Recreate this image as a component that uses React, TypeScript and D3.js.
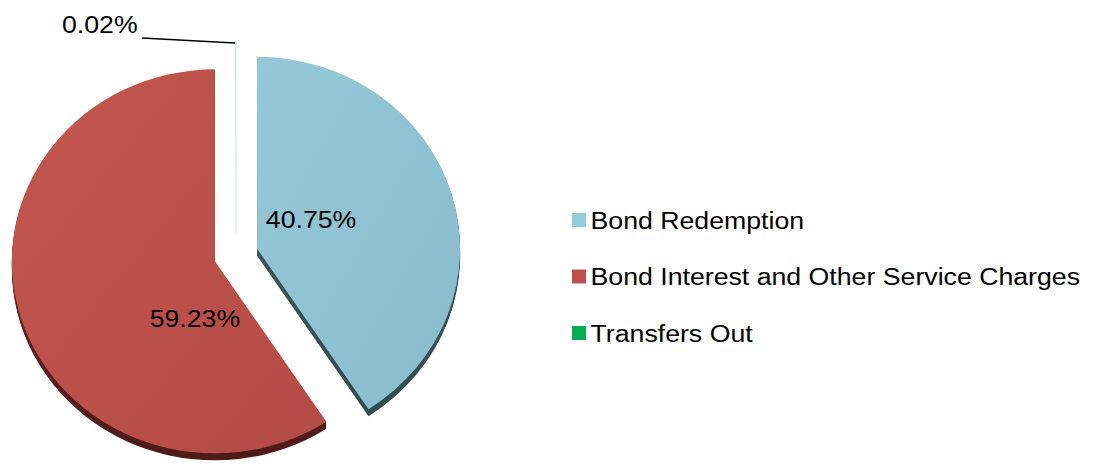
import React from "react";
import * as d3 from "d3";

const categories = ["Bond Redemption", "Bond Interest and Other Service Charges", "Transfers Out"];
const values = [40.75, 59.23, 0.02];
const valueLabels = ["40.75%", "59.23%", "0.02%"];
const legendColors = ["#93cddd", "#c0504d", "#00b050"];

const W = 1095, H = 466;
const CX = 236, CY = 255;
const RX = 203, RY = 192;
const EXPLODE = 22;
const DEPTH = 7;

const faceTop = ["#95c9d8", "#c3574f", "#c8ead8"];
const faceBottom = ["#88bbcb", "#b44b46", "#c8ead8"];
const sideTop = ["#44636a", "#7e2f2b", "#9fc9b3"];
const sideBottom = ["#324b50", "#4e1a18", "#9fc9b3"];

// label offsets relative to each slice's (exploded) vertex, in px
const labelOffsets: [number, number][] = [[54, -30], [-20, 56], [0, 0]];

const FONT = "'Liberation Sans', Arial, Helvetica, sans-serif";
const FS = 24.5;
const SX = 1.09;

export default function App() {
  const pie = d3.pie<number>().sort(null).value((d) => d);
  const arcs = pie(values);
  const arc = d3.arc<d3.PieArcDatum<number>>().innerRadius(0).outerRadius(RY);
  const k = RX / RY;

  const slices = arcs.map((a, i) => {
    const mid = (a.startAngle + a.endAngle) / 2;
    const vx = CX + Math.sin(mid) * EXPLODE;
    const vy = CY - Math.cos(mid) * EXPLODE;
    return { a, i, vx, vy, path: arc(a) as string };
  });

  const green = slices[2];
  const greenTopX = green.vx;
  const greenTopY = green.vy - RY + 2;

  return (
    <svg width={W} height={H} style={{ position: "fixed", left: 0, top: 0, display: "block", background: "#fff" }}>
      <defs>
        {slices.map((s) => (
          <React.Fragment key={s.i}>
            <linearGradient id={`face${s.i}`} x1="0" y1="0" x2="1" y2="1">
              <stop offset="0" stopColor={faceTop[s.i]} />
              <stop offset="1" stopColor={faceBottom[s.i]} />
            </linearGradient>
            <linearGradient id={`side${s.i}`} x1="0" y1="0" x2="0" y2="1">
              <stop offset="0" stopColor={sideTop[s.i]} />
              <stop offset="1" stopColor={sideBottom[s.i]} />
            </linearGradient>
          </React.Fragment>
        ))}
      </defs>

      {/* sides (extrusion) */}
      {slices.slice(0, 2).map((s) => (
        <g key={`side${s.i}`}>
          {d3.range(1, DEPTH + 1).map((dy) => (
            <path
              key={dy}
              d={s.path}
              transform={`translate(${s.vx},${s.vy + dy}) scale(${k},1)`}
              fill={`url(#side${s.i})`}
            />
          ))}
        </g>
      ))}

      {/* faces */}
      {slices.map((s) => (
        <path
          key={`face${s.i}`}
          d={s.path}
          transform={`translate(${s.vx},${s.vy}) scale(${k},1)`}
          fill={`url(#face${s.i})`}
          stroke={s.i === 2 ? "#c8ead8" : "none"}
          strokeWidth={s.i === 2 ? 1 : 0}
        />
      ))}

      {/* leader line for tiny slice */}
      <polyline
        points={`142,38 ${greenTopX - 1},${greenTopY}`}
        fill="none"
        stroke="#000"
        strokeWidth={1.3}
      />

      {/* data labels */}
      {slices.slice(0, 2).map((s) => (
        <text
          key={`lab${s.i}`}
          transform={`translate(${s.vx + labelOffsets[s.i][0]},${s.vy + labelOffsets[s.i][1] + 9.5}) scale(${SX},1)`}
          textAnchor="middle"
          fontFamily={FONT}
          fontSize={FS}
          fill="#000"
        >
          {valueLabels[s.i]}
        </text>
      ))}
      <text
        transform={`translate(62,33) scale(${SX},1)`}
        fontFamily={FONT}
        fontSize={FS}
        fill="#000"
      >
        {valueLabels[2]}
      </text>

      {/* legend */}
      {categories.map((c, i) => (
        <g key={c} transform={`translate(572,${213 + i * 56.5})`}>
          <rect x={0} y={0} width={14} height={14} fill={legendColors[i]} />
          <text
            transform={`translate(18.5,15.5) scale(${SX},1)`}
            fontFamily={FONT}
            fontSize={FS}
            fill="#000"
          >
            {c}
          </text>
        </g>
      ))}
    </svg>
  );
}
